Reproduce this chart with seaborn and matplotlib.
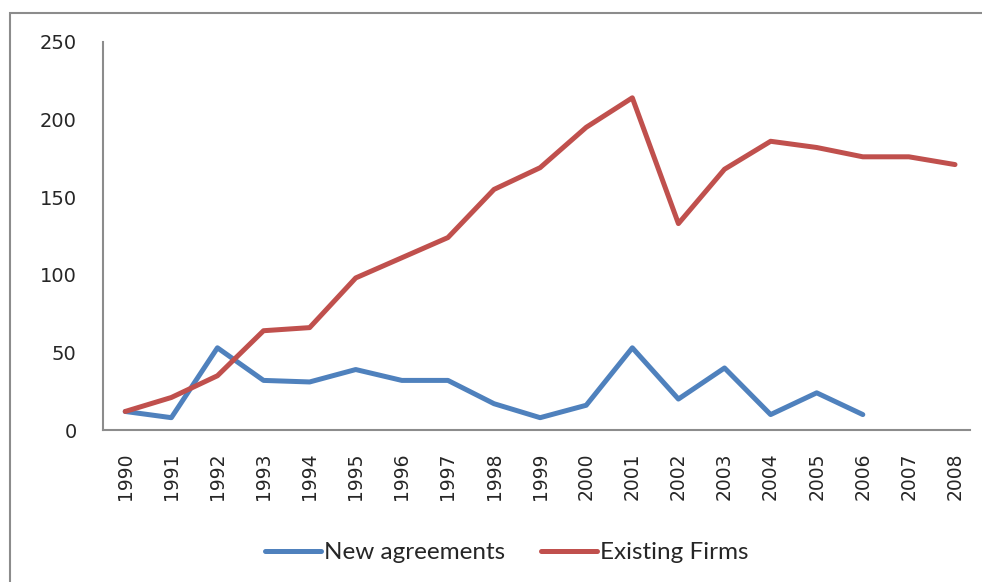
import matplotlib
matplotlib.use("Agg")
import matplotlib.pyplot as plt
import matplotlib.patches as mpatches
import seaborn as sns
import pandas as pd
import numpy as np

years = list(range(1990, 2009))
new_agreements = [12, 8, 53, 32, 31, 39, 32, 32, 17, 8, 16, 53, 20, 40, 10, 24, 10]
existing_firms = [12, 21, 35, 64, 66, 98, 111, 124, 155, 169, 195, 214, 133, 168, 186, 182, 176, 176, 171]

df = pd.concat([
    pd.DataFrame({"year": years[:len(new_agreements)], "value": new_agreements, "series": "New agreements"}),
    pd.DataFrame({"year": years, "value": existing_firms, "series": "Existing Firms"}),
])

sns.set_style("white")
plt.rcParams['font.family'] = ['DejaVu Sans']

fig = plt.figure(figsize=(9.82, 5.82), dpi=100)
ax = fig.add_axes([0.105, 0.261, 0.883, 0.667])

sns.lineplot(data=df, x="year", y="value", hue="series",
             palette={"New agreements": "#4F81BD", "Existing Firms": "#C0504D"},
             linewidth=3.6, ax=ax, legend=False)

ax.set_xlim(1989.52, 2008.33)
ax.set_ylim(0, 250)
ax.set_yticks(range(0, 251, 50))
ax.set_xticks(years)
ax.set_xticklabels([str(y) for y in years], rotation=90, fontsize=13.5)
ax.tick_params(axis="y", labelsize=14, length=0, pad=19)
ax.tick_params(axis="x", length=0, pad=16)
ax.set_xlabel("")
ax.set_ylabel("")
for s in ["top", "right"]:
    ax.spines[s].set_visible(False)
for s in ["left", "bottom"]:
    ax.spines[s].set_color("#8c8c8c")
    ax.spines[s].set_linewidth(1.5)

# outer frame of the chart area
frame = mpatches.Rectangle((10 / 982, -0.1), 1.2, 1.1 - 13 / 582,
                           transform=fig.transFigure, fill=False,
                           edgecolor="#8c8c8c", linewidth=1.5)
fig.add_artist(frame)

handles = [plt.Line2D([], [], color="#4F81BD", lw=3.6),
           plt.Line2D([], [], color="#C0504D", lw=3.6)]
fig.legend(handles, ["New agreements", "Existing Firms"], loc="center",
           bbox_to_anchor=(0.516, 0.05), ncol=2, frameon=False,
           prop={"family": "Lato", "size": 17.5}, handlelength=2.3,
           handletextpad=0.1, columnspacing=1.5)

fig.savefig("out.png", dpi=100)
